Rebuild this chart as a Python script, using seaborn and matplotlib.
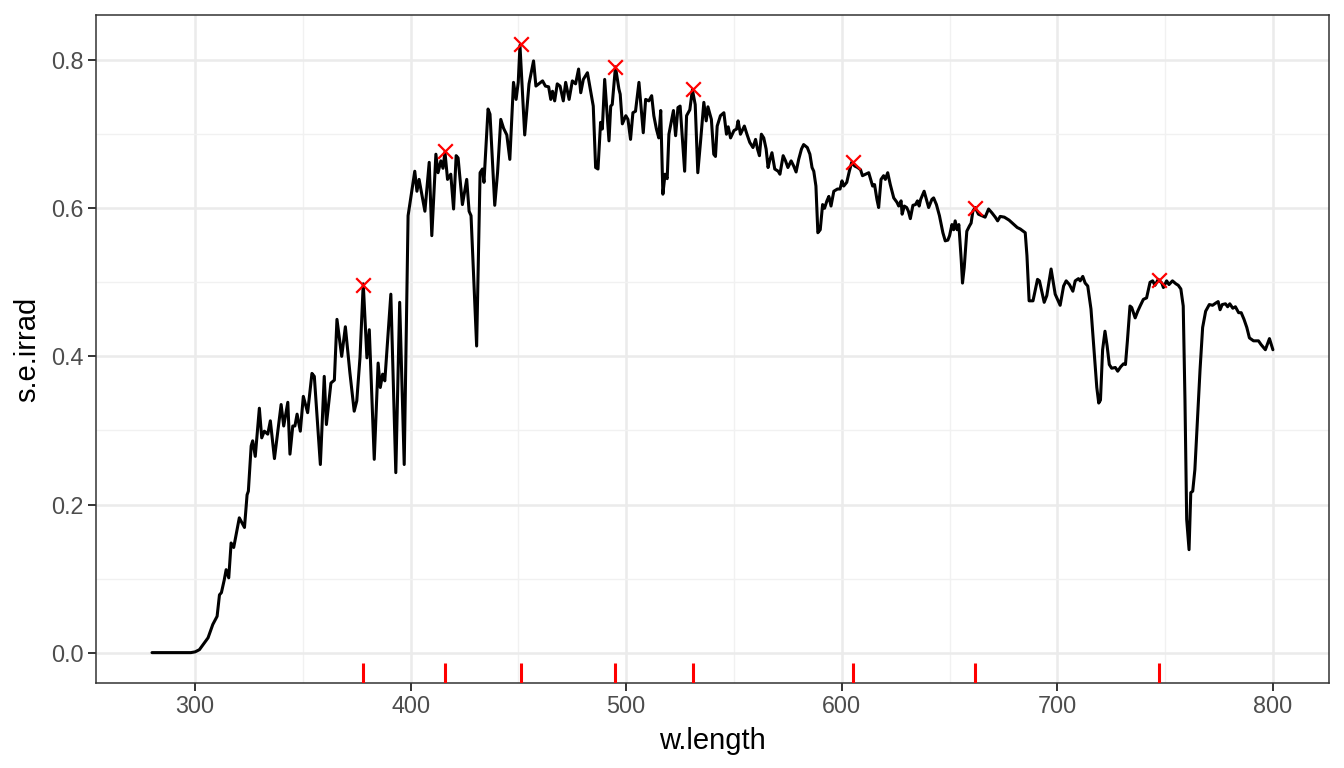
import numpy as np
import pandas as pd
import matplotlib
matplotlib.use("Agg")
import matplotlib.pyplot as plt
from matplotlib.ticker import MultipleLocator
import seaborn as sns

# Spectrum
w_length = [
    280, 290, 298, 300, 302, 304, 306, 308.2, 310.2, 311.3, 312.2, 313.5, 314.4, 315.6,
    316.7, 317.9, 320.5, 322.9, 324.1, 324.7, 326.0, 326.7, 327.9, 329.8, 330.9, 332.1,
    333.7, 334.9, 336.8, 339.9, 341.1, 343.0, 344.0, 345.3, 346.3, 347.3, 348.8, 350.2,
    352.2, 354.2, 355.3, 358.1, 359.9, 360.9, 363.0, 364.6, 365.8, 368.0, 369.7, 371.8,
    373.8, 375.0, 376.5, 378.0, 379.7, 380.8, 383.1, 384.9, 385.9, 387.0, 388.0, 390.8,
    393.1, 394.9, 397.0, 398.8, 401.9, 402.9, 403.9, 406.6, 408.6, 409.8, 411.7, 412.7,
    414.0, 415.0, 415.9, 417.1, 418.6, 419.9, 421.1, 422.0, 424.0, 426.0, 427.1, 428.0,
    430.6, 432.2, 433.3, 434.0, 435.9, 436.8, 439.0, 440.3, 441.8, 443.1, 444.6, 446.0,
    447.7, 448.9, 449.9, 450.7, 452.9, 454.9, 457.0, 458.1, 461.2, 462.5, 464.0, 465.0,
    465.8, 466.8, 468.0, 469.3, 470.8, 471.9, 473.5, 475.0, 476.5, 477.9, 478.9, 480.1,
    482.0, 484.7, 485.8, 486.9, 488.1, 488.9, 490.0, 492.0, 492.8, 493.5, 495.0, 496.6,
    497.2, 498.2, 499.8, 500.8, 502.0, 503.1, 504.3, 505.9, 507.9, 509.0, 510.5, 511.8,
    512.8, 514.0, 515.1, 516.0, 517.0, 518.0, 519.0, 519.8, 521.9, 522.9, 524.0, 525.0,
    527.1, 528.0, 529.5, 530.7, 532.0, 533.2, 534.5, 536.0, 537.1, 537.9, 539.5, 540.6,
    541.4, 542.2, 543.7, 545.3, 546.5, 547.3, 548.4, 550.0, 551.2, 551.9, 553.0, 554.8,
    556.0, 557.3, 558.8, 560.0, 560.9, 561.8, 562.7, 563.8, 564.9, 565.8, 566.6, 567.6,
    568.9, 570.5, 571.3, 572.8, 573.9, 575.0, 576.5, 577.7, 578.8, 580.0, 581.3, 582.3,
    584.0, 585.2, 586.2, 587.0, 588.0, 588.9, 590.0, 591.1, 592.0, 593.1, 594.0, 595.0,
    596.3, 598.0, 599.2, 600.1, 600.9, 602.3, 603.5, 604.6, 606.0, 607.4, 608.7, 609.6,
    611.0, 612.5, 613.4, 614.3, 615.2, 616.3, 617.1, 618.2, 619.4, 620.2, 621.3, 622.5,
    624.1, 625.6, 626.4, 627.5, 628.0, 629.0, 630.1, 630.9, 631.8, 633.0, 634.2, 635.1,
    635.9, 636.6, 638.2, 640.3, 641.8, 642.6, 643.9, 645.3, 646.9, 648.0, 649.2, 650.0,
    651.1, 651.9, 652.6, 653.5, 654.3, 655.4, 656.0, 656.8, 658.0, 659.2, 660.0, 660.8,
    661.9, 663.4, 665.0, 666.5, 668.1, 669.6, 671.2, 672.3, 673.5, 675.4, 677.6, 679.9,
    681.4, 682.8, 685.1, 685.9, 686.9, 688.7, 689.8, 690.8, 691.7, 693.9, 695.1, 697.1,
    699.0, 701.3, 702.9, 704.1, 705.6, 707.2, 708.3, 709.8, 710.6, 711.8, 712.9, 714.1,
    715.6, 717.0, 718.3, 719.2, 720.0, 721.0, 722.1, 723.1, 724.1, 725.2, 726.9, 728.0,
    729.4, 730.7, 731.6, 732.5, 733.7, 734.5, 736.1, 737.3, 738.4, 739.9, 741.4, 743.0,
    744.2, 745.3, 746.8, 748.5, 749.2, 750.7, 751.8, 753.4, 755.0, 756.1, 757.3, 758.4,
    759.2, 760.0, 761.1, 761.9, 762.8, 763.8, 765.0, 766.2, 767.4, 768.8, 770.5, 772.0,
    773.5, 774.6, 775.5, 776.5, 778.0, 779.0, 780.0, 781.4, 782.6, 784.1, 785.3, 786.6,
    787.9, 789.1, 791.0, 793.3, 794.5, 796.5, 798.4, 800.0,
]
s_e_irrad = [
    0.0, 0.0, 0.0, 0.001, 0.004, 0.012, 0.020, 0.038, 0.049, 0.078, 0.081, 0.098, 0.112, 0.101,
    0.148, 0.142, 0.182, 0.169, 0.213, 0.218, 0.279, 0.286, 0.265, 0.330, 0.290, 0.299,
    0.295, 0.313, 0.262, 0.335, 0.306, 0.338, 0.268, 0.306, 0.306, 0.322, 0.299, 0.346,
    0.324, 0.377, 0.373, 0.254, 0.373, 0.308, 0.364, 0.368, 0.450, 0.400, 0.440, 0.378,
    0.326, 0.340, 0.399, 0.498, 0.398, 0.436, 0.261, 0.391, 0.358, 0.376, 0.367, 0.484,
    0.243, 0.473, 0.254, 0.590, 0.650, 0.623, 0.639, 0.596, 0.662, 0.563, 0.673, 0.648,
    0.664, 0.654, 0.676, 0.639, 0.646, 0.599, 0.671, 0.668, 0.605, 0.639, 0.596, 0.590,
    0.414, 0.648, 0.653, 0.635, 0.734, 0.727, 0.604, 0.648, 0.720, 0.708, 0.699, 0.666,
    0.770, 0.747, 0.770, 0.820, 0.699, 0.768, 0.799, 0.765, 0.772, 0.765, 0.764, 0.747,
    0.758, 0.745, 0.768, 0.765, 0.745, 0.770, 0.747, 0.772, 0.768, 0.788, 0.756, 0.774,
    0.783, 0.738, 0.655, 0.653, 0.716, 0.707, 0.774, 0.691, 0.738, 0.740, 0.791, 0.761,
    0.754, 0.714, 0.725, 0.720, 0.693, 0.729, 0.731, 0.770, 0.702, 0.747, 0.745, 0.752,
    0.725, 0.707, 0.695, 0.732, 0.619, 0.646, 0.640, 0.700, 0.732, 0.698, 0.736, 0.738,
    0.650, 0.725, 0.733, 0.760, 0.740, 0.648, 0.691, 0.743, 0.718, 0.737, 0.720, 0.673,
    0.670, 0.711, 0.725, 0.729, 0.700, 0.710, 0.695, 0.705, 0.707, 0.718, 0.700, 0.711,
    0.700, 0.689, 0.682, 0.693, 0.680, 0.671, 0.700, 0.695, 0.680, 0.655, 0.665, 0.675,
    0.653, 0.650, 0.646, 0.671, 0.664, 0.655, 0.664, 0.657, 0.649, 0.666, 0.680, 0.686,
    0.682, 0.673, 0.655, 0.650, 0.630, 0.567, 0.571, 0.605, 0.600, 0.610, 0.616, 0.603,
    0.623, 0.626, 0.626, 0.637, 0.630, 0.635, 0.650, 0.662, 0.657, 0.655, 0.652, 0.644,
    0.646, 0.648, 0.639, 0.630, 0.632, 0.612, 0.601, 0.639, 0.644, 0.639, 0.648, 0.632,
    0.614, 0.608, 0.603, 0.610, 0.592, 0.603, 0.601, 0.596, 0.586, 0.604, 0.605, 0.610,
    0.603, 0.612, 0.623, 0.601, 0.612, 0.614, 0.605, 0.590, 0.567, 0.556, 0.557, 0.563,
    0.578, 0.571, 0.583, 0.571, 0.578, 0.531, 0.499, 0.520, 0.569, 0.576, 0.580, 0.596,
    0.601, 0.592, 0.590, 0.588, 0.599, 0.594, 0.588, 0.583, 0.589, 0.588, 0.584, 0.578,
    0.574, 0.572, 0.567, 0.536, 0.475, 0.475, 0.490, 0.504, 0.502, 0.473, 0.482, 0.518,
    0.484, 0.469, 0.495, 0.502, 0.497, 0.488, 0.502, 0.505, 0.502, 0.508, 0.499, 0.495,
    0.464, 0.409, 0.358, 0.337, 0.341, 0.409, 0.434, 0.414, 0.389, 0.384, 0.385, 0.380,
    0.386, 0.390, 0.389, 0.421, 0.468, 0.466, 0.452, 0.461, 0.468, 0.477, 0.479, 0.500,
    0.502, 0.496, 0.504, 0.499, 0.493, 0.502, 0.497, 0.502, 0.498, 0.496, 0.491, 0.468,
    0.342, 0.180, 0.139, 0.216, 0.218, 0.247, 0.315, 0.382, 0.439, 0.461, 0.470, 0.469,
    0.472, 0.474, 0.463, 0.470, 0.471, 0.467, 0.471, 0.465, 0.467, 0.459, 0.459, 0.450,
    0.439, 0.425, 0.421, 0.421, 0.416, 0.409, 0.424, 0.409,
]

# Local maxima marked in red
peak_wl = [378, 416, 451, 495, 531, 605, 662, 747]
peak_val = [0.497, 0.677, 0.822, 0.791, 0.761, 0.663, 0.601, 0.503]

spct = pd.DataFrame({"w.length": w_length, "s.e.irrad": s_e_irrad})
peaks = pd.DataFrame({"w.length": peak_wl, "s.e.irrad": peak_val})

sns.set_theme(style="white")
plt.rcParams["font.family"] = ["Liberation Sans", "DejaVu Sans"]

fig, ax = plt.subplots(figsize=(13.44, 7.68), dpi=100)
fig.subplots_adjust(left=0.0714, right=0.9888, top=0.9805, bottom=0.1107)

sns.lineplot(data=spct, x="w.length", y="s.e.irrad", color="black",
             linewidth=2.2, sort=False, estimator=None, ax=ax, zorder=3)
sns.scatterplot(data=peaks, x="w.length", y="s.e.irrad", marker="x", color="red",
                s=110, linewidth=1.6, ax=ax, zorder=4)
sns.rugplot(data=peaks, x="w.length", height=0.03, color="red", linewidth=2.2,
            ax=ax, zorder=4)

# ggplot-style expanded limits
ax.set_xlim(254, 826)
ax.set_ylim(-0.041, 0.861)
ax.xaxis.set_major_locator(MultipleLocator(100))
ax.xaxis.set_minor_locator(MultipleLocator(50))
ax.yaxis.set_major_locator(MultipleLocator(0.2))
ax.yaxis.set_minor_locator(MultipleLocator(0.1))
ax.set_yticks([0.0, 0.2, 0.4, 0.6, 0.8])
ax.set_yticklabels(["0.0", "0.2", "0.4", "0.6", "0.8"])

ax.grid(which="major", color="#ebebeb", linewidth=1.8, zorder=0)
ax.grid(which="minor", color="#f1f1f1", linewidth=1.0, zorder=0)
ax.set_axisbelow(True)

for sp in ax.spines.values():
    sp.set_color("#333333")
    sp.set_linewidth(1.1)

ax.tick_params(which="major", length=5.5, width=1.4, color="#333333",
               labelsize=16.8, labelcolor="#4d4d4d", pad=3.5,
               bottom=True, left=True)
ax.tick_params(which="minor", length=0, bottom=False, left=False)

ax.set_xlabel("w.length", fontsize=21, color="black", labelpad=6)
ax.set_ylabel("s.e.irrad", fontsize=21, color="black", labelpad=7)

fig.savefig("out.png", dpi=100, facecolor="white")
